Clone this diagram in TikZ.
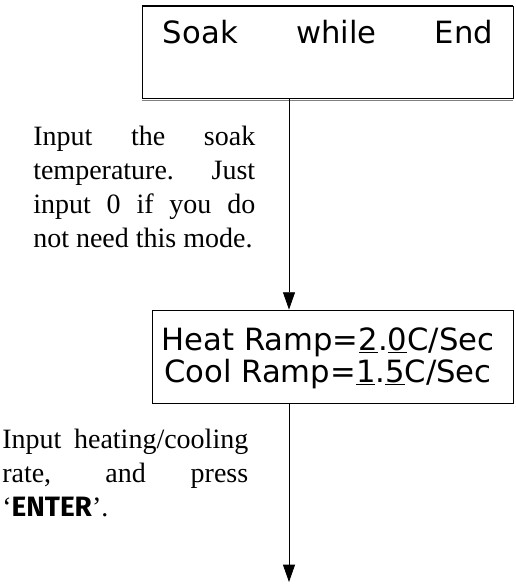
\documentclass[tikz,border=0pt]{standalone}
\usepackage{fontspec}
\setmainfont{Liberation Serif}
\newfontfamily\manofont{DejaVu Sans}
\newfontfamily\teclafont{Fira Sans}
\usetikzlibrary{arrows.meta, positioning}

\begin{document}
\begin{tikzpicture}[x=0.75pt, y=-0.75pt,
    caja/.style={draw, line width=0.6pt, inner sep=0pt},
    mano/.style={font=\manofont\fontsize{23}{24}\selectfont, inner sep=0pt},
    nota/.style={font=\fontsize{21}{25.5}\selectfont, align=left, inner sep=0pt, anchor=north west},
    flecha/.style={line width=0.6pt, -{Triangle[width=9pt, length=13pt]}}]
    \useasboundingbox (0,0) rectangle (516,586);

    % Cajas de la pantalla
    \node[caja, minimum width=278.25pt, minimum height=69pt] (soak) at (327.5,52) {};
    \draw[line width=1.6pt] (soak.north west) -- (soak.north east);
    \draw[line width=0.6pt, gray] ([yshift=-1.6pt]soak.south west) -- ([yshift=-1.6pt]soak.south east);
    \node[mano] (soaktxt) at (328,32) {Soak\hspace{1.9em}while\hspace{1.9em}End};

    \node[caja, minimum width=270.75pt, minimum height=69.75pt] (ramp) at (332.5,356.5) {};
    \node[mano, align=center] (ramptxt) at (328,358)
        {Heat Ramp=\underline{2}.\underline{0}C/Sec\\Cool Ramp=\underline{1}.\underline{5}C/Sec};

    % Flechas
    \coordinate (eje) at (289,0);
    \coordinate (fin) at (289,582);
    \draw[flecha] (soak.south -| eje) -- (ramp.north -| eje);
    \draw[flecha] (ramp.south -| eje) -- (fin);

    % Notas
    \node[nota] (notasoak) at (33,126) {\makebox[166.5pt][s]{Input the soak}\\
        \makebox[166.5pt][s]{temperature. Just}\\
        \makebox[166.5pt][s]{input 0 if you do}\\
        not need this mode.};
    \node[nota] (notaramp) at (2,429) {\makebox[184.5pt][s]{Input heating/cooling}\\
        \makebox[184.5pt][s]{rate, and press}\\
        ‘{\teclafont\bfseries ENTER}’.};
\end{tikzpicture}
\end{document}
